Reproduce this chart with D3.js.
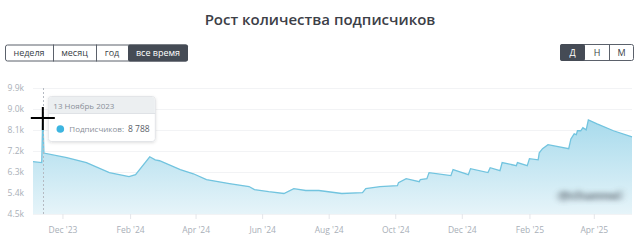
<!DOCTYPE html>
<html>
<head>
<meta charset="utf-8">
<script src="https://cdn.jsdelivr.net/npm/d3@7"></script>
<style>
  body { margin: 0; background: #fff; }
  svg { display: block; font-family: "Open Sans", sans-serif; }
</style>
</head>
<body>
<div id="chart"></div>
<script>
// subscriber counts
const dates = [
  "2023-11-04", "2023-11-12", "2023-11-13", "2023-11-14", "2023-12-05", "2023-12-23",
  "2024-01-13", "2024-01-31", "2024-02-06", "2024-02-19", "2024-02-24", "2024-02-28",
  "2024-03-18", "2024-03-30", "2024-04-11", "2024-05-02", "2024-05-20", "2024-05-25",
  "2024-06-07", "2024-06-21", "2024-06-30", "2024-07-11", "2024-07-23", "2024-08-13",
  "2024-09-01", "2024-09-04", "2024-09-17", "2024-10-03", "2024-10-04", "2024-10-11",
  "2024-10-23", "2024-10-24", "2024-10-30", "2024-11-01", "2024-11-21", "2024-11-23",
  "2024-12-07", "2024-12-09", "2024-12-25", "2024-12-27", "2025-01-05", "2025-01-07",
  "2025-01-20", "2025-01-21", "2025-01-30", "2025-02-01", "2025-02-09", "2025-02-10",
  "2025-02-13", "2025-02-18", "2025-03-09", "2025-03-11", "2025-03-14", "2025-03-16",
  "2025-03-17", "2025-03-20", "2025-03-22", "2025-03-25", "2025-03-27", "2025-04-04",
  "2025-04-19", "2025-05-06"
];
const subscribers = [
  6730, 6690, 8788, 7100, 6900, 6690,
  6260, 6090, 6170, 6940, 6810, 6770,
  6390, 6210, 5960, 5790, 5660, 5530,
  5440, 5360, 5570, 5490, 5490, 5360,
  5400, 5570, 5660, 5700, 5830, 6000,
  5870, 5960, 6000, 6260, 6130, 6390,
  6170, 6430, 6260, 6470, 6340, 6690,
  6560, 6690, 6560, 6860, 6810, 7110,
  7290, 7460, 7290, 7710, 7930, 7890,
  8060, 8060, 8190, 8100, 8530, 8360,
  8060, 7800
];
const yTicks = [4500, 5400, 6300, 7200, 8100, 9000, 9900];
const periodButtons = ["неделя", "месяц", "год", "все время"];
const scaleButtons = ["Д", "Н", "М"];
const hoverDate = "2023-11-13";
const hoverLabel = "13 Ноябрь 2023";

const width = 640, height = 247;
const margin = {top: 88, right: 8, bottom: 33, left: 33};
const parse = d3.timeParse("%Y-%m-%d");
const data = dates.map((d, i) => ({date: parse(d), value: subscribers[i]}));

const svg = d3.select("#chart").append("svg")
    .attr("width", width)
    .attr("height", height);

// title
svg.append("text")
    .attr("x", 320).attr("y", 25)
    .attr("text-anchor", "middle")
    .style("font-size", "15px")
    .style("font-weight", 600)
    .style("fill", "#3c4047")
    .text("Рост количества подписчиков");

// button groups
function buttonGroup(labels, x0, y0, widths, activeIdx) {
    const g = svg.append("g").attr("transform", `translate(${x0},${y0})`);
    let x = 0;
    const total = d3.sum(widths);
    g.append("rect")
        .attr("x", 0.5).attr("y", 0.5)
        .attr("width", total - 1).attr("height", 16)
        .attr("rx", 2)
        .style("fill", "#fff")
        .style("stroke", "#5b616b");
    labels.forEach((l, i) => {
        const active = i === activeIdx;
        if (active) {
            g.append("rect")
                .attr("x", x).attr("y", 0)
                .attr("width", widths[i]).attr("height", 17)
                .attr("rx", 2)
                .style("fill", "#454b55");
        } else if (i > 0 && i - 1 !== activeIdx) {
            g.append("line")
                .attr("x1", x + 0.5).attr("x2", x + 0.5)
                .attr("y1", 0).attr("y2", 17)
                .style("stroke", "#5b616b");
        }
        g.append("text")
            .attr("x", x + widths[i] / 2).attr("y", 11.5)
            .attr("text-anchor", "middle")
            .style("font-size", "9px")
            .style("fill", active ? "#fff" : "#3a3f47")
            .text(l);
        x += widths[i];
    });
}
buttonGroup(periodButtons, 5, 44.5, [48, 43, 32, 60], 3);
buttonGroup(scaleButtons, 560, 44, [25, 24, 25], 0);

const x = d3.scaleTime()
    .domain([parse("2023-11-04"), parse("2025-05-06")])
    .range([margin.left, width - margin.right]);

const y = d3.scaleLinear()
    .domain([4500, 9900])
    .range([height - margin.bottom - 0.5, margin.top]);

// gridlines
svg.append("g")
    .selectAll("line")
    .data(yTicks)
    .join("line")
    .attr("x1", margin.left).attr("x2", width - margin.right)
    .attr("y1", d => Math.round(y(d)) + 0.5).attr("y2", d => Math.round(y(d)) + 0.5)
    .style("stroke", "#f2f3f5");

// y axis
const yAxis = svg.append("g")
    .attr("transform", `translate(${margin.left - 6},0)`)
    .call(d3.axisLeft(y).tickValues(yTicks).tickSize(0).tickFormat(d => (d / 1000).toFixed(1) + "k"));
yAxis.select(".domain").remove();
yAxis.selectAll("text")
    .style("font-family", "Open Sans")
    .style("font-size", "8.5px")
    .style("fill", "#a9afb8");

// gradient
const defs = svg.append("defs");
const grad = defs.append("linearGradient")
    .attr("id", "areaGrad")
    .attr("gradientUnits", "userSpaceOnUse")
    .attr("x1", 0).attr("x2", 0)
    .attr("y1", margin.top).attr("y2", height - margin.bottom);
grad.append("stop").attr("offset", "0%").attr("stop-color", "#93d2e8");
grad.append("stop").attr("offset", "100%").attr("stop-color", "#e6f4f9");

const blur = defs.append("filter").attr("id", "blur")
    .attr("x", "-30%").attr("y", "-100%").attr("width", "160%").attr("height", "300%");
blur.append("feGaussianBlur").attr("stdDeviation", "3.5 2.8");

const area = d3.area()
    .x(d => x(d.date))
    .y0(height - margin.bottom)
    .y1(d => y(d.value));

const line = d3.line()
    .x(d => x(d.date))
    .y(d => y(d.value));

svg.append("path")
    .datum(data)
    .attr("d", area)
    .style("fill", "url(#areaGrad)");

svg.append("path")
    .datum(data)
    .attr("d", line)
    .style("fill", "none")
    .style("stroke", "#72c4df")
    .style("stroke-width", 1.3);

// x axis: every second month starting with December
const xAxis = svg.append("g")
    .attr("transform", `translate(0,${height - margin.bottom})`)
    .call(d3.axisBottom(x)
        .ticks(d3.timeMonth.filter(d => d.getMonth() % 2 === 1))
        .tickSize(5)
        .tickFormat(d3.timeFormat("%b '%y")));
xAxis.select(".domain").remove();
xAxis.selectAll("line").style("stroke", "#e4e6ea");
xAxis.selectAll("text")
    .attr("dy", "1.25em")
    .style("font-family", "Open Sans")
    .style("font-size", "8.5px")
    .style("fill", "#a9afb8");

// blurred watermark
svg.append("text")
    .attr("x", 590).attr("y", 200)
    .attr("text-anchor", "middle")
    .attr("filter", "url(#blur)")
    .style("font-size", "13px")
    .style("font-weight", 700)
    .style("fill", "#56606a")
    .style("opacity", 0.85)
    .text("@channel");

// hover state
const hx = x(parse(hoverDate));
const hv = subscribers[dates.indexOf(hoverDate)];
svg.append("line")
    .attr("x1", Math.round(hx) + 0.5).attr("x2", Math.round(hx) + 0.5)
    .attr("y1", margin.top).attr("y2", height - margin.bottom)
    .style("stroke", "#b5bac2")
    .style("stroke-dasharray", "2,2");

const tip = svg.append("g").attr("transform", `translate(${hx + 5.5},96.5)`);
defs.append("filter").attr("id", "shadow")
    .append("feDropShadow")
    .attr("dx", 0).attr("dy", 1).attr("stdDeviation", 1.5)
    .attr("flood-color", "#000").attr("flood-opacity", 0.12);
tip.append("rect")
    .attr("width", 107).attr("height", 45).attr("rx", 3)
    .attr("filter", "url(#shadow)")
    .style("fill", "#fff")
    .style("stroke", "#e3e5e8");
tip.append("path")
    .attr("d", "M0.5,17 V3.5 Q0.5,0.5 3.5,0.5 H103.5 Q106.5,0.5 106.5,3.5 V17 Z")
    .style("fill", "#eceff1");
tip.append("line")
    .attr("x1", 0).attr("x2", 107).attr("y1", 17).attr("y2", 17)
    .style("stroke", "#dfe2e6");
tip.append("text")
    .attr("x", 5).attr("y", 12)
    .style("font-size", "8px")
    .style("fill", "#8a9099")
    .text(hoverLabel);
tip.append("circle")
    .attr("cx", 12).attr("cy", 32.5).attr("r", 3.8)
    .style("fill", "#3db5e0");
const tt = tip.append("text")
    .attr("x", 21).attr("y", 35.5)
    .style("font-size", "8px");
tt.append("tspan").style("fill", "#8a9099").text("Подписчиков:");
tt.append("tspan").attr("dx", 4).style("fill", "#5a6069").style("font-size", "8.5px")
    .text(d3.format(",")(hv).replace(",", " "));

// mouse cursor crosshair
const cy = 118;
svg.append("line")
    .attr("x1", hx - 12).attr("x2", hx + 12).attr("y1", cy).attr("y2", cy)
    .style("stroke", "#000").style("stroke-width", 2);
svg.append("line")
    .attr("x1", hx).attr("x2", hx).attr("y1", cy - 11).attr("y2", cy + 12)
    .style("stroke", "#000").style("stroke-width", 2);
</script>
</body>
</html>
